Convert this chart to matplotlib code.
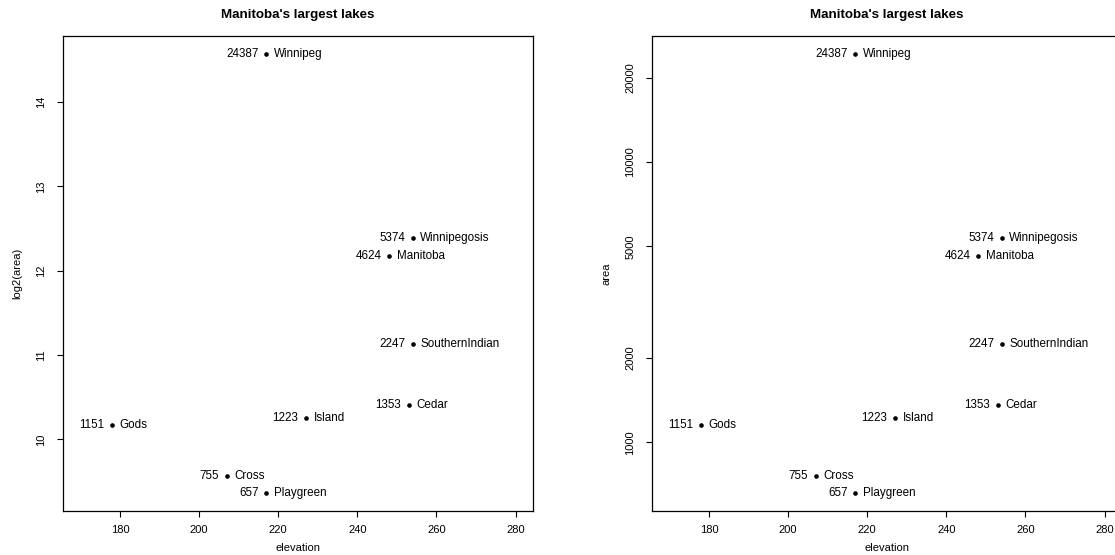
import numpy as np
import matplotlib
matplotlib.use('Agg')
import matplotlib.pyplot as plt

plt.rcParams['font.family'] = ['Liberation Sans', 'DejaVu Sans']

# Manitoba lakes
lakes = ['Winnipeg', 'Winnipegosis', 'Manitoba', 'SouthernIndian', 'Cedar',
         'Island', 'Gods', 'Cross', 'Playgreen']
elevation = [217, 254, 248, 254, 253, 227, 178, 207, 217]
area = [24387, 5374, 4624, 2247, 1353, 1223, 1151, 755, 657]
xticks = [180, 200, 220, 240, 260, 280]
yticks_log2 = [10, 11, 12, 13, 14]
yticks_area = [1000, 2000, 5000, 10000, 20000]

W, H = 1115, 555
fig = plt.figure(figsize=(W / 100, H / 100), dpi=100)

# xlim = c(170, 280) with R's 4% extension
x0, x1 = 170, 280
ext = 0.04 * (x1 - x0)


def r_style(ax):
    for s in ax.spines.values():
        s.set_linewidth(0.9)
        s.set_color('black')
    ax.tick_params(axis='both', direction='out', length=4, width=0.8,
                   labelsize=8, colors='black', top=False, right=False)
    ax.tick_params(axis='x', pad=6)
    ax.tick_params(axis='y', pad=8)
    for lab in ax.get_yticklabels():
        lab.set_rotation(90)
        lab.set_va('center')
    ax.set_xlim(x0 - ext, x1 + ext)
    ax.set_xticks(xticks)
    ax.set_xlabel('elevation', fontsize=8, labelpad=6)
    ax.set_title("Manitoba's largest lakes", fontsize=9.6, fontweight='bold', pad=13)


def label_points(ax, xs, ys):
    ax.scatter(xs, ys, s=11, color='black', zorder=3, linewidths=0)
    for xv, yv, a, n in zip(xs, ys, area, lakes):
        ax.annotate(str(a), (xv, yv), xytext=(-5.5, 0), textcoords='offset points',
                    ha='right', va='center', fontsize=8.4)
        ax.annotate(n, (xv, yv), xytext=(5.5, 0), textcoords='offset points',
                    ha='left', va='center', fontsize=8.4)


# Left panel: log2(area)
ax1 = fig.add_axes([63 / W, 1 - 511 / H, 470 / W, 475 / H])
label_points(ax1, elevation, np.log2(area))
ax1.margins(y=0.04)
ax1.set_yticks(yticks_log2)
ax1.set_yticklabels([str(t) for t in yticks_log2])
ax1.set_ylabel('log2(area)', fontsize=8, labelpad=10)
r_style(ax1)

# Right panel: area on log scale
ax2 = fig.add_axes([652 / W, 1 - 511 / H, 470 / W, 475 / H])
label_points(ax2, elevation, area)
ax2.set_yscale('log')
ax2.margins(y=0.04)
ax2.set_yticks(yticks_area)
ax2.set_yticklabels([str(t) for t in yticks_area])
ax2.minorticks_off()
ax2.set_ylabel('area', fontsize=8, labelpad=10)
r_style(ax2)

fig.savefig('out.png', dpi=100)
